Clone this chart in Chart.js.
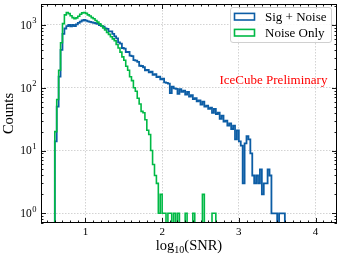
<!DOCTYPE html>
<html>
<head>
<meta charset="utf-8">
<script src="https://cdn.jsdelivr.net/npm/chart.js@4"></script>
<style>
  html, body { margin: 0; padding: 0; background: #fff; }
</style>
</head>
<body>
<canvas id="snrChart" width="341" height="257"></canvas>
<script>
// histogram bins in log10(SNR)
const binStart = 0.6;
const binWidth = 0.025;

const sigNoiseCounts = [
  3, 14, 50, 150, 400, 720, 880, 960, 1000, 950,
  1000, 960, 1020, 1080, 1130, 1180, 1200, 1170, 1140, 1120,
  1100, 1080, 1060, 1040, 1000, 970, 940, 880, 870, 790,
  790, 720, 660, 610, 530, 505, 430, 420, 370, 372,
  325, 318, 275, 270, 258, 224, 222, 212, 190, 193,
  176, 180, 160, 165, 148, 150, 136, 140, 122, 120,
  116, 82, 104, 98, 96, 80, 95, 86, 90, 78,
  86, 72, 76, 66, 68, 61, 63, 54, 60, 50,
  52, 46, 48, 40, 46, 38, 40, 32, 36, 29,
  30, 25, 27, 22, 25, 15, 21, 14, 12, 3,
  13, 17, 15, 9, 4, 3, 4, 3, 5, 2,
  3, 3, 5, 4, 1, 1, 1, 0, 1, 1,
  1
];

const noiseOnlyCounts = [
  4, 20, 65, 190, 520, 1050, 1450, 1580, 1520, 1400,
  1310, 1260, 1300, 1380, 1480, 1560, 1580, 1530, 1450, 1390,
  1310, 1260, 1180, 1110, 1040, 970, 900, 830, 760, 710,
  650, 600, 560, 490, 430, 370, 310, 275, 220, 190,
  150, 130, 100, 88, 68, 55, 42, 40, 31, 21,
  18, 10, 6, 4, 3, 1, 2, 1, 1, 0,
  1, 1, 0, 1, 0, 1, 0, 0, 0, 1,
  0, 0, 0, 1, 0, 0, 0, 0, 2, 0,
  0, 0, 0, 1, 1
];

const seriesLabels = ['Sig + Noise', 'Noise Only'];
const xTicks = [1, 2, 3, 4];
const xTickLabels = ['1', '2', '3', '4'];
const yTicks = [1, 10, 100, 1000];
const yTickExponents = ['0', '1', '2', '3'];

const BLUE = '#0C5DA5';
const GREEN = '#00B945';
const FLOOR = 0.1; // empty bins drop below the axis

// step outline of a histogram: rise at first edge, fall at last edge
function stepPoints(counts) {
  const pts = [{ x: binStart, y: FLOOR }];
  counts.forEach(function(c, i) {
    pts.push({ x: binStart + i * binWidth, y: c > 0 ? c : FLOOR });
  });
  pts.push({ x: binStart + counts.length * binWidth, y: FLOOR });
  return pts;
}

const SERIF = "'Liberation Serif', 'Times New Roman', serif";

const decor = {
  id: 'decor',
  afterDraw(chart) {
    const ctx = chart.ctx;
    const a = chart.chartArea;
    const xs = chart.scales.x;
    const ys = chart.scales.y;
    ctx.save();

    // frame
    ctx.strokeStyle = '#000';
    ctx.lineWidth = 1;
    ctx.strokeRect(a.left + 0.5, a.top + 0.5, a.right - a.left - 1, a.bottom - a.top - 1);

    // inward ticks on all four sides
    ctx.lineWidth = 0.9;
    ctx.beginPath();
    const vTick = function(px, len) {
      ctx.moveTo(px, a.bottom); ctx.lineTo(px, a.bottom - len);
      ctx.moveTo(px, a.top); ctx.lineTo(px, a.top + len);
    };
    const hTick = function(py, len) {
      ctx.moveTo(a.left, py); ctx.lineTo(a.left + len, py);
      ctx.moveTo(a.right, py); ctx.lineTo(a.right - len, py);
    };
    for (let i = 5; i <= 42; i++) {
      const px = Math.round(xs.getPixelForValue(i / 10)) + 0.5;
      vTick(px, i % 10 === 0 ? 5 : 2.5);
    }
    for (let d = -1; d <= 3; d++) {
      for (let k = 1; k <= 9; k++) {
        const v = k * Math.pow(10, d);
        if (v < ys.min || v > ys.max) continue;
        const py = Math.round(ys.getPixelForValue(v)) + 0.5;
        hTick(py, k === 1 ? 5 : 2.5);
      }
    }
    ctx.stroke();

    ctx.fillStyle = '#000';
    // x tick labels
    ctx.font = '11px ' + SERIF;
    ctx.textAlign = 'center';
    ctx.textBaseline = 'alphabetic';
    xTicks.forEach(function(v, i) {
      ctx.fillText(xTickLabels[i], xs.getPixelForValue(v), 235);
    });

    // y tick labels 10^n
    yTicks.forEach(function(v, i) {
      const py = ys.getPixelForValue(v);
      ctx.font = '8.5px ' + SERIF;
      const sw = ctx.measureText(yTickExponents[i]).width;
      ctx.textAlign = 'right';
      ctx.fillText(yTickExponents[i], 36.5, py - 1.5);
      ctx.font = '11.5px ' + SERIF;
      ctx.fillText('10', 36.5 - sw - 0.5, py + 3.8);
    });

    // x title log10(SNR)
    const big = '14.5px ' + SERIF;
    const small = '10px ' + SERIF;
    ctx.textAlign = 'left';
    ctx.font = big;
    const w1 = ctx.measureText('log').width;
    const w3 = ctx.measureText('(SNR)').width;
    ctx.font = small;
    const w2 = ctx.measureText('10').width;
    let tx = (a.left + a.right) / 2 - (w1 + w2 + w3) / 2;
    ctx.font = big;
    ctx.fillText('log', tx, 249.5);
    ctx.font = small;
    ctx.fillText('10', tx + w1, 252.5);
    ctx.font = big;
    ctx.fillText('(SNR)', tx + w1 + w2, 249.5);

    // y title
    ctx.save();
    ctx.translate(13.3, (a.top + a.bottom) / 2);
    ctx.rotate(-Math.PI / 2);
    ctx.textAlign = 'center';
    ctx.fillText('Counts', 0, 0);
    ctx.restore();

    // watermark
    ctx.fillStyle = '#ff0000';
    ctx.font = '13px ' + SERIF;
    ctx.textAlign = 'left';
    ctx.textBaseline = 'middle';
    ctx.fillText('IceCube Preliminary', 219.5, 80.5);

    // legend box
    const bx = 230.5, by = 7.5, bw = 101, bh = 35, r = 2.5;
    ctx.beginPath();
    ctx.moveTo(bx + r, by);
    ctx.arcTo(bx + bw, by, bx + bw, by + bh, r);
    ctx.arcTo(bx + bw, by + bh, bx, by + bh, r);
    ctx.arcTo(bx, by + bh, bx, by, r);
    ctx.arcTo(bx, by, bx + bw, by, r);
    ctx.closePath();
    ctx.fillStyle = 'rgba(255,255,255,0.85)';
    ctx.fill();
    ctx.strokeStyle = '#d0d0d0';
    ctx.lineWidth = 1;
    ctx.stroke();

    chart.data.datasets.forEach(function(ds, i) {
      const cy = 16.7 + i * 16;
      ctx.fillStyle = '#fff';
      ctx.fillRect(234.5, cy - 3.3, 20, 6.6);
      ctx.strokeStyle = ds.borderColor;
      ctx.lineWidth = 1.6;
      ctx.strokeRect(234.5, cy - 3.3, 20, 6.6);
      ctx.fillStyle = '#000';
      ctx.font = '13px ' + SERIF;
      ctx.fillText(ds.label, 265, cy + 0.5);
    });

    ctx.restore();
  }
};

new Chart(document.getElementById('snrChart'), {
  type: 'line',
  data: {
    datasets: [
      {
        label: seriesLabels[0],
        data: stepPoints(sigNoiseCounts),
        borderColor: BLUE,
        borderWidth: 1.8,
        stepped: 'after',
        pointRadius: 0,
        fill: false,
        clip: 0,
        order: 2
      },
      {
        label: seriesLabels[1],
        data: stepPoints(noiseOnlyCounts),
        borderColor: GREEN,
        borderWidth: 1.6,
        stepped: 'after',
        pointRadius: 0,
        fill: false,
        clip: 0,
        order: 1
      }
    ]
  },
  options: {
    responsive: false,
    animation: false,
    events: [],
    layout: { padding: { top: 4, right: 4, left: 0, bottom: 0 } },
    plugins: {
      legend: { display: false },
      tooltip: { enabled: false }
    },
    scales: {
      x: {
        type: 'linear',
        min: 0.42,
        max: 4.28,
        afterBuildTicks: function(s) { s.ticks = xTicks.map(function(v) { return { value: v }; }); },
        afterFit: function(s) { s.height = 34; },
        ticks: { display: false },
        grid: { color: 'rgba(0,0,0,0.25)', lineWidth: 0.7, drawTicks: false },
        border: { display: false, dash: [1.5, 1.5] }
      },
      y: {
        type: 'logarithmic',
        min: 0.7,
        max: 2160,
        afterBuildTicks: function(s) { s.ticks = yTicks.map(function(v) { return { value: v }; }); },
        afterFit: function(s) { s.width = 41; },
        ticks: { display: false },
        grid: { color: 'rgba(0,0,0,0.25)', lineWidth: 0.7, drawTicks: false },
        border: { display: false, dash: [1.5, 1.5] }
      }
    }
  },
  plugins: [decor]
});
</script>
</body>
</html>
